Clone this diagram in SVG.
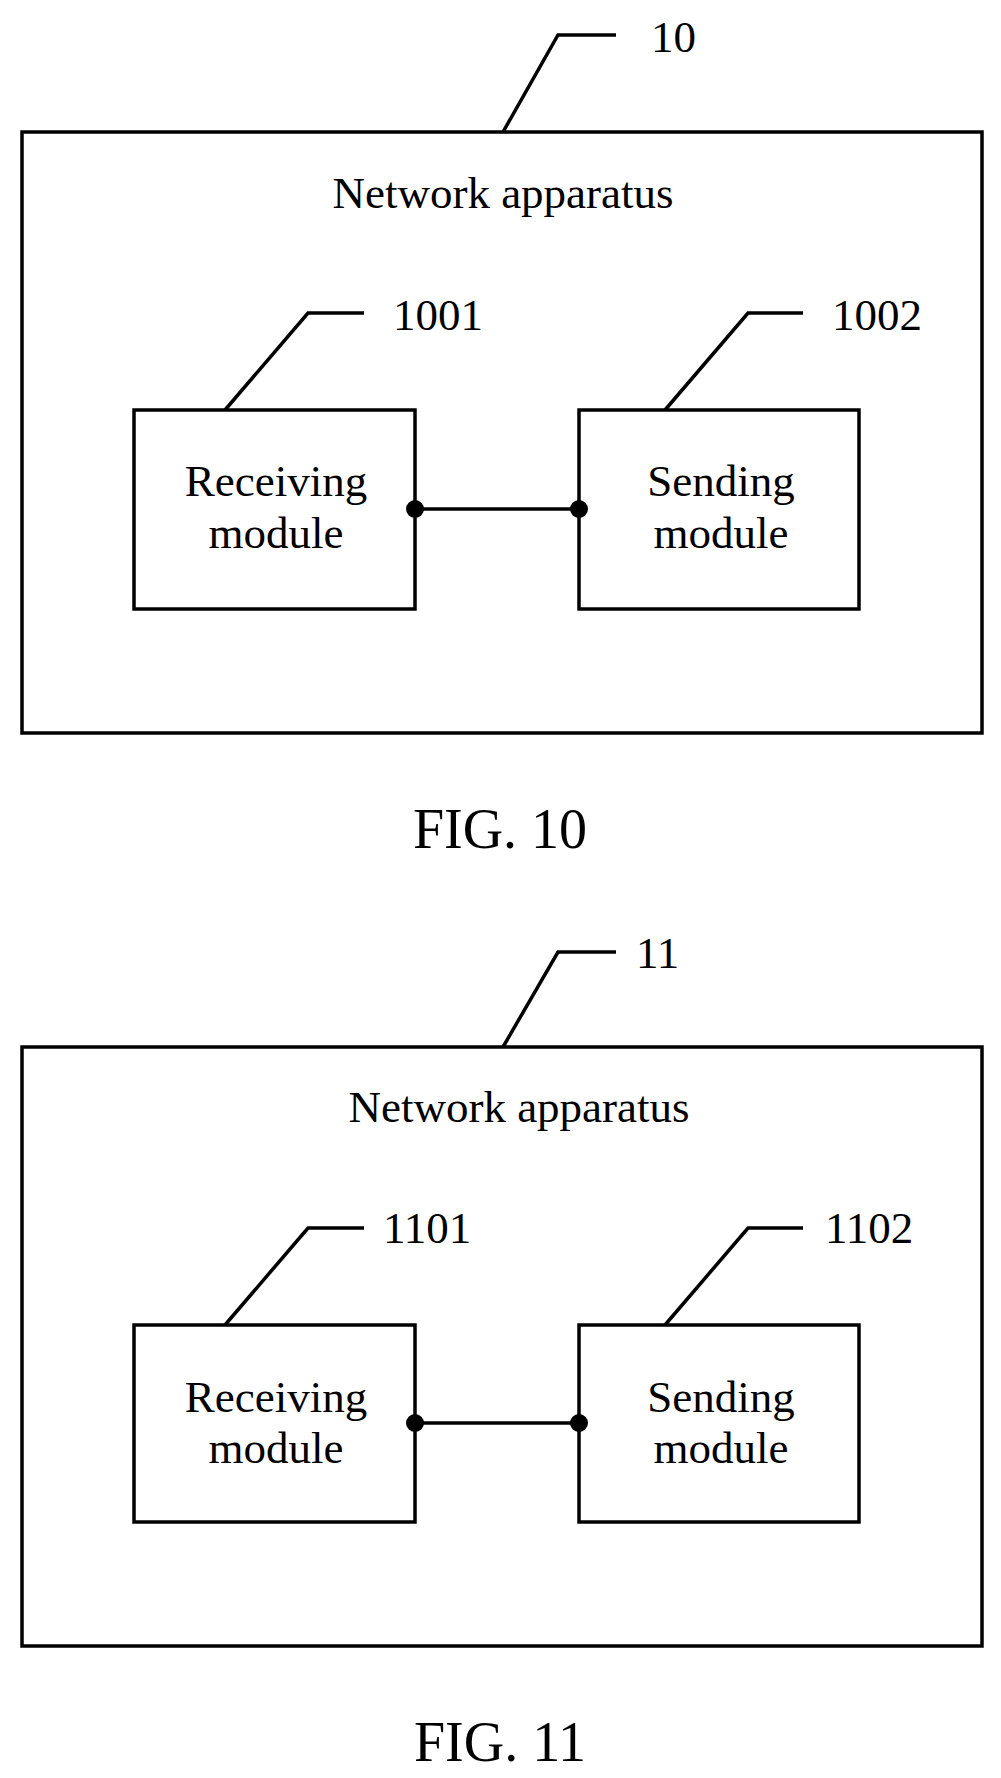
<svg xmlns="http://www.w3.org/2000/svg" width="1001" height="1778" viewBox="0 0 1001 1778">
<style>
.b{fill:none;stroke:#000;stroke-width:3.5}
text{font-family:"Liberation Serif",serif;fill:#000}
.t{font-size:45px}
.c{text-anchor:middle}
.f{font-size:56px}
</style>
<rect width="1001" height="1778" fill="#fff"/>
<g id="fig10">
<g id="n10"><rect class="b" x="22" y="132" width="960" height="601"/><text class="t c" x="503" y="208">Network apparatus</text></g>
<g id="n1001"><rect class="b" x="134" y="410" width="281" height="199"/><text class="t c" x="276" y="496">Receiving</text><text class="t c" x="276" y="548">module</text></g>
<g id="n1002"><rect class="b" x="579" y="410" width="280" height="199"/><text class="t c" x="721" y="496">Sending</text><text class="t c" x="721" y="548">module</text></g>
<g id="c10">
<path class="b" d="M503 132 L558 35 L616 35"/><text class="t" x="651" y="52">10</text>
<path class="b" d="M225 410 L308 313 L364 313"/><text class="t" x="393" y="330">1001</text>
<path class="b" d="M665 410 L748 313 L803 313"/><text class="t" x="832" y="330">1002</text>
<path class="b" d="M415 509 L579 509"/><circle cx="415" cy="509" r="9"/><circle cx="579" cy="509" r="9"/>
</g>
<text class="f c" x="500" y="848">FIG. 10</text>
</g>
<g id="fig11">
<g id="n11"><rect class="b" x="22" y="1047" width="960" height="599"/><text class="t c" x="519" y="1122">Network apparatus</text></g>
<g id="n1101"><rect class="b" x="134" y="1325" width="281" height="197"/><text class="t c" x="276" y="1412">Receiving</text><text class="t c" x="276" y="1463">module</text></g>
<g id="n1102"><rect class="b" x="579" y="1325" width="280" height="197"/><text class="t c" x="721" y="1412">Sending</text><text class="t c" x="721" y="1463">module</text></g>
<g id="c11">
<path class="b" d="M503 1047 L558 952 L616 952"/><text class="t" x="636" y="968">11</text>
<path class="b" d="M225 1325 L308 1228 L364 1228"/><text class="t" x="383" y="1243">1101</text>
<path class="b" d="M665 1325 L748 1228 L803 1228"/><text class="t" x="825" y="1243">1102</text>
<path class="b" d="M415 1423 L579 1423"/><circle cx="415" cy="1423" r="9"/><circle cx="579" cy="1423" r="9"/>
</g>
<text class="f c" x="500" y="1761">FIG. 11</text>
</g>
</svg>
